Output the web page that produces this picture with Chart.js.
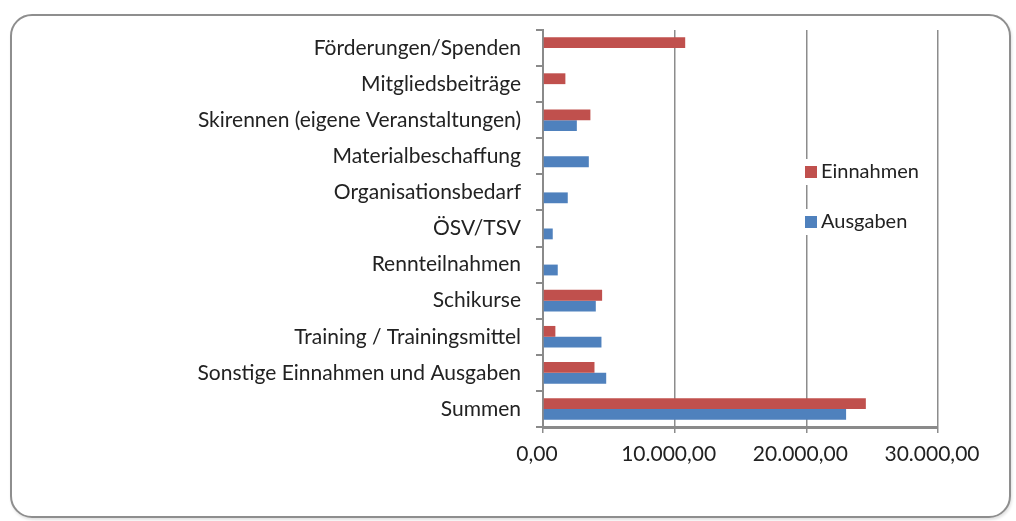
<!DOCTYPE html>
<html>
<head>
<meta charset="utf-8">
<script src="https://cdn.jsdelivr.net/npm/chart.js@4.4.1/dist/chart.umd.min.js"></script>
<style>
  html, body { margin: 0; padding: 0; background: #fff; }
  #wrap { position: relative; width: 1016px; height: 521px; overflow: hidden; }
  #frame {
    position: absolute; left: 10px; top: 14px; width: 1001px; height: 504px;
    border: 2px solid #8e8e8e; border-radius: 22px; box-sizing: border-box;
    box-shadow: 1px 2px 3px rgba(0,0,0,0.12);
  }
  #chart { position: absolute; left: 0; top: 0; }
</style>
</head>
<body>
<div id="wrap">
  <div id="frame"></div>
  <canvas id="chart" width="1016" height="521"></canvas>
</div>
<script>
const categories = [
  'Förderungen/Spenden',
  'Mitgliedsbeiträge',
  'Skirennen (eigene Veranstaltungen)',
  'Materialbeschaffung',
  'Organisationsbedarf',
  'ÖSV/TSV',
  'Rennteilnahmen',
  'Schikurse',
  'Training / Trainingsmittel',
  'Sonstige Einnahmen und Ausgaben',
  'Summen'
];
const einnahmen = [10800, 1700, 3600, null, null, null, null, 4490, 940, 3910, 24520];
const ausgaben = [null, null, 2570, 3480, 1880, 740, 1120, 4010, 4440, 4800, 23020];
const seriesNames = ['Einnahmen', 'Ausgaben'];
const axisMax = 30000;
const axisStep = 10000;

function formatDe(v) {
  const parts = Math.abs(v).toFixed(2).split('.');
  const int = parts[0].replace(/\B(?=(\d{3})+(?!\d))/g, '.');
  return (v < 0 ? '-' : '') + int + ',' + parts[1];
}

const fontFamily = 'Lato, "Open Sans", sans-serif';
const labelFont = { family: fontFamily, size: 21 };

// legend drawn inside the plot, like the original
const innerLegend = {
  id: 'innerLegend',
  afterDraw(chart) {
    const ctx = chart.ctx;
    ctx.save();
    ctx.font = '20px ' + fontFamily;
    ctx.textBaseline = 'middle';
    const x = 805, ys = [172, 222];
    chart.data.datasets.forEach((ds, i) => {
      ctx.fillStyle = '#fff';
      ctx.fillRect(x - 2, ys[i] - 13, 122, 26);
      ctx.fillStyle = ds.backgroundColor;
      ctx.fillRect(x, ys[i] - 6, 12, 12);
      ctx.fillStyle = '#222';
      ctx.fillText(ds.label, x + 16, ys[i]);
    });
    ctx.restore();
  }
};

new Chart(document.getElementById('chart'), {
  type: 'bar',
  data: {
    labels: categories,
    datasets: [
      { label: seriesNames[0], data: einnahmen, backgroundColor: '#c0504d' },
      { label: seriesNames[1], data: ausgaben, backgroundColor: '#4f81bd' }
    ]
  },
  options: {
    indexAxis: 'y',
    responsive: false,
    animation: false,
    categoryPercentage: 0.6,
    barPercentage: 1,
    skipNull: false,
    layout: { padding: { left: 0, right: 78, top: 30, bottom: 0 } },
    plugins: { legend: { display: false }, tooltip: { enabled: false } },
    scales: {
      x: {
        min: 0,
        max: axisMax,
        ticks: {
          stepSize: axisStep,
          color: '#222',
          font: labelFont,
          padding: 9,
          labelOffset: -6,
          callback: v => formatDe(v)
        },
        grid: { color: '#8c8c8c', lineWidth: 1.5, tickLength: 6, tickColor: '#8c8c8c' },
        border: { color: '#8a8a8a', width: 3 },
        afterFit: s => { s.height = 94; }
      },
      y: {
        ticks: { color: '#222', font: labelFont, padding: 15, autoSkip: false },
        grid: { drawOnChartArea: false, tickLength: 7, color: '#8a8a8a', lineWidth: 2 },
        border: { color: '#8a8a8a', width: 2 },
        afterFit: s => { s.width = 543; }
      }
    }
  },
  plugins: [innerLegend]
});
</script>
</body>
</html>
